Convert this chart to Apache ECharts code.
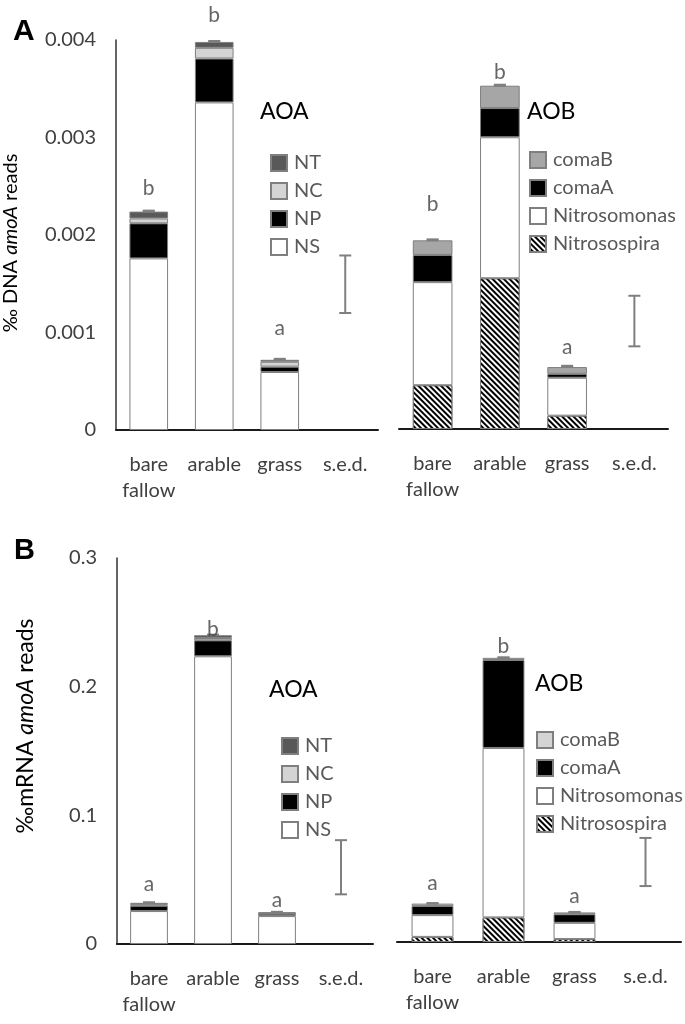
<!DOCTYPE html>
<html>
<head>
<meta charset="utf-8">
<script src="https://cdn.jsdelivr.net/npm/echarts@6/dist/echarts.min.js"></script>
<style>html,body{margin:0;padding:0;background:#fff}#c{width:685px;height:1024px}</style>
</head>
<body>
<div id="c"></div>
<script>
// ---------- data ----------
const categories = ['bare\nfallow', 'arable', 'grass', 's.e.d.'];

// Panel A: % DNA amoA reads
const dnaTicks = ['0', '0.001', '0.002', '0.003', '0.004'];
const dnaAOA_NS = [0.00176, 0.00336, 0.000595, '-'];
const dnaAOA_NP = [0.00036, 0.00045, 0.000055, '-'];
const dnaAOA_NC = [0.00005, 0.00011, 0.00005, '-'];
const dnaAOA_NT = [0.00007, 0.00006, 0.00002, '-'];
const dnaAOA_err = [[0, 0.00224, 0.00225], [1, 0.00398, 0.00399], [2, 0.00072, 0.00073], [3, 0.00120, 0.00179]];
const dnaAOA_letters = ['b', 'b', 'a'];
const dnaAOA_letterY = [0.00248, 0.00425, 0.00104];

const dnaAOB_Nsp = [0.00045, 0.00155, 0.000137, '-'];
const dnaAOB_Nsm = [0.00106, 0.00145, 0.00039, '-'];
const dnaAOB_comaA = [0.00028, 0.00030, 0.00004, '-'];
const dnaAOB_comaB = [0.00015, 0.00023, 0.00007, '-'];
const dnaAOB_err = [[0, 0.00194, 0.00195], [1, 0.00353, 0.00354], [2, 0.00064, 0.00065], [3, 0.00085, 0.00137]];
const dnaAOB_letters = ['b', 'b', 'a'];
const dnaAOB_letterY = [0.00231, 0.00367, 0.00084];

// Panel B: % mRNA amoA reads
const rnaTicks = ['0', '0.1', '0.2', '0.3'];
const rnaAOA_NS = [0.0256, 0.2236, 0.0217, '-'];
const rnaAOA_NP = [0.0041, 0.0124, 0.0018, '-'];
const rnaAOA_NC = [0.0013, 0.0018, 0.0005, '-'];
const rnaAOA_NT = [0.0010, 0.0022, 0.0006, '-'];
const rnaAOA_err = [[0, 0.0320, 0.0324], [1, 0.2400, 0.2404], [2, 0.0246, 0.0250], [3, 0.0386, 0.0807]];
const rnaAOA_letters = ['a', 'b', 'a'];
const rnaAOA_letterY = [0.0466, 0.2448, 0.0337];

const rnaAOB_Nsp = [0.0040, 0.0192, 0.0023, '-'];
const rnaAOB_Nsm = [0.0170, 0.1324, 0.0127, '-'];
const rnaAOB_comaA = [0.0072, 0.0687, 0.0067, '-'];
const rnaAOB_comaB = [0.0018, 0.0017, 0.0014, '-'];
const rnaAOB_err = [[0, 0.0300, 0.0304], [1, 0.2220, 0.2224], [2, 0.0231, 0.0235], [3, 0.0437, 0.0813]];
const rnaAOB_letters = ['a', 'b', 'a'];
const rnaAOB_letterY = [0.0456, 0.2308, 0.0360];

// ---------- styles ----------
const FONT = 'Lato';
const TXT = '#404040';
const C_NT = '#595959', C_NC = '#d4d4d4', C_NP = '#000000', C_NS = '#ffffff';
const C_comaB_A = '#a6a6a6', C_comaB_B = '#d4d4d4';
const BORDER = '#7f7f7f';
const stripe = {
  symbol: 'rect', symbolSize: 1, color: '#000',
  dashArrayX: [1, 0], dashArrayY: [2, 2], rotation: Math.PI / 4
};

const grids = [
  { left: 115, top: 40, width: 263, height: 390 },
  { left: 399, top: 40, width: 269, height: 389 },
  { left: 117, top: 558, width: 256, height: 386 },
  { left: 397, top: 558, width: 284, height: 384 }
];

function xAxis(i) {
  return {
    type: 'category', gridIndex: i, data: categories,
    axisTick: { show: false },
    axisLine: { lineStyle: { color: '#1a1a1a', width: 2 } },
    axisLabel: { interval: 0, fontFamily: FONT, fontSize: 20, color: TXT, lineHeight: 26, margin: 22 }
  };
}
function yAxis(i, max, interval, ticks, show, name, gap, pad, nameSize) {
  return {
    type: 'value', gridIndex: i, min: 0, max: max, interval: interval,
    show: show,
    splitLine: { show: false },
    axisTick: { show: false },
    axisLine: { show: true, lineStyle: { color: '#333', width: 1.5 } },
    axisLabel: {
      fontFamily: FONT, fontSize: 20, color: TXT, margin: 20, padding: [8, 0, 0, 0],
      formatter: (v, idx) => ticks[idx]
    },
    name: name, nameLocation: 'middle', nameGap: gap,
    nameTextStyle: {
      padding: pad,
      rich: {
        n: { fontFamily: FONT, fontSize: nameSize, color: '#000' },
        i: { fontFamily: FONT, fontSize: nameSize, color: '#000', fontStyle: 'italic' }
      }
    }
  };
}
function bar(name, data, idx, stack, color, decal) {
  const s = {
    type: 'bar', name: name, data: data, xAxisIndex: idx, yAxisIndex: idx, stack: stack,
    barWidth: '59%',
    itemStyle: { color: color, borderColor: BORDER, borderWidth: 1 },
    emphasis: { disabled: true }, animation: false
  };
  if (decal) s.itemStyle.decal = decal;
  return s;
}
function errSeries(data, idx) {
  return {
    type: 'custom', xAxisIndex: idx, yAxisIndex: idx, data: data,
    encode: { x: 0, y: [1, 2] }, animation: false, z: 5,
    renderItem: function (params, api) {
      const lo = api.coord([api.value(0), api.value(1)]);
      const hi = api.coord([api.value(0), api.value(2)]);
      const w = 6;
      const st = { stroke: '#7f7f7f', lineWidth: 2 };
      return {
        type: 'group', children: [
          { type: 'line', shape: { x1: lo[0], y1: lo[1], x2: hi[0], y2: hi[1] }, style: st },
          { type: 'line', shape: { x1: lo[0] - w, y1: lo[1], x2: lo[0] + w, y2: lo[1] }, style: st },
          { type: 'line', shape: { x1: hi[0] - w, y1: hi[1], x2: hi[0] + w, y2: hi[1] }, style: st }
        ]
      };
    }
  };
}
function letterSeries(ys, letters, idx) {
  return {
    type: 'scatter', xAxisIndex: idx, yAxisIndex: idx, symbolSize: 0, clip: false,
    data: ys.map((y, i) => [i, y]), animation: false, z: 6,
    label: {
      show: true, position: 'inside', fontFamily: FONT, fontSize: 21, color: TXT,
      formatter: p => letters[p.dataIndex]
    }
  };
}
function legend(left, top, items) {
  return {
    orient: 'vertical', left: left, top: top, itemWidth: 16, itemHeight: 16, itemGap: 8,
    icon: 'rect', selectedMode: false,
    textStyle: { fontFamily: FONT, fontSize: 20, color: '#595959', padding: [0, 0, 0, 2] },
    data: items
  };
}

const option = {
  backgroundColor: '#fff',
  animation: false,
  grid: grids,
  xAxis: [xAxis(0), xAxis(1), xAxis(2), xAxis(3)],
  yAxis: [
    yAxis(0, 0.004, 0.001, dnaTicks, true, '{n|‰ DNA }{i|amoA}{n| reads}', 95, [0, 16, 0, 0], 20),
    yAxis(1, 0.004, 0.001, dnaTicks, false, '', 0, 0, 18),
    yAxis(2, 0.3, 0.1, rnaTicks, true, '{n|‰mRNA }{i|amoA}{n| reads}', 80, [0, 0, 0, 50], 23),
    yAxis(3, 0.3, 0.1, rnaTicks, false, '', 0, 0, 18)
  ],
  legend: [
    legend(265, 148, ['NT', 'NC', 'NP', 'NS']),
    legend(524, 145, [{ name: 'comaB', itemStyle: { color: C_comaB_A } }, 'comaA', 'Nitrosomonas', 'Nitrosospira']),
    legend(276, 731, ['NT', 'NC', 'NP', 'NS']),
    legend(531, 725, [{ name: 'comaB', itemStyle: { color: C_comaB_B } }, 'comaA', 'Nitrosomonas', 'Nitrosospira'])
  ],
  graphic: [
    { type: 'text', x: 13, y: 32, style: { text: 'A', font: 'bold 30px "Liberation Sans"', fill: '#000', verticalAlign: 'middle' } },
    { type: 'text', x: 14, y: 551, style: { text: 'B', font: 'bold 29px "Liberation Sans"', fill: '#000', verticalAlign: 'middle' } },
    { type: 'text', x: 260, y: 112, style: { text: 'AOA', font: '23px Lato', fill: '#000', verticalAlign: 'middle' } },
    { type: 'text', x: 527, y: 112, style: { text: 'AOB', font: '23px Lato', fill: '#000', verticalAlign: 'middle' } },
    { type: 'text', x: 269, y: 690, style: { text: 'AOA', font: '23px Lato', fill: '#000', verticalAlign: 'middle' } },
    { type: 'text', x: 535, y: 684, style: { text: 'AOB', font: '23px Lato', fill: '#000', verticalAlign: 'middle' } }
  ],
  series: [
    bar('NS', dnaAOA_NS, 0, 'a', C_NS),
    bar('NP', dnaAOA_NP, 0, 'a', C_NP),
    bar('NC', dnaAOA_NC, 0, 'a', C_NC),
    bar('NT', dnaAOA_NT, 0, 'a', C_NT),
    errSeries(dnaAOA_err, 0),
    letterSeries(dnaAOA_letterY, dnaAOA_letters, 0),

    bar('Nitrosospira', dnaAOB_Nsp, 1, 'b', '#fff', stripe),
    bar('Nitrosomonas', dnaAOB_Nsm, 1, 'b', '#fff'),
    bar('comaA', dnaAOB_comaA, 1, 'b', '#000'),
    bar('comaB', dnaAOB_comaB, 1, 'b', C_comaB_A),
    errSeries(dnaAOB_err, 1),
    letterSeries(dnaAOB_letterY, dnaAOB_letters, 1),

    bar('NS', rnaAOA_NS, 2, 'c', C_NS),
    bar('NP', rnaAOA_NP, 2, 'c', C_NP),
    bar('NC', rnaAOA_NC, 2, 'c', C_NC),
    bar('NT', rnaAOA_NT, 2, 'c', C_NT),
    errSeries(rnaAOA_err, 2),
    letterSeries(rnaAOA_letterY, rnaAOA_letters, 2),

    bar('Nitrosospira', rnaAOB_Nsp, 3, 'd', '#fff', stripe),
    bar('Nitrosomonas', rnaAOB_Nsm, 3, 'd', '#fff'),
    bar('comaA', rnaAOB_comaA, 3, 'd', '#000'),
    bar('comaB', rnaAOB_comaB, 3, 'd', C_comaB_B),
    errSeries(rnaAOB_err, 3),
    letterSeries(rnaAOB_letterY, rnaAOB_letters, 3)
  ]
};
const chart = echarts.init(document.getElementById('c'), null, { renderer: 'canvas' });
chart.setOption(option);
</script>
</body>
</html>
